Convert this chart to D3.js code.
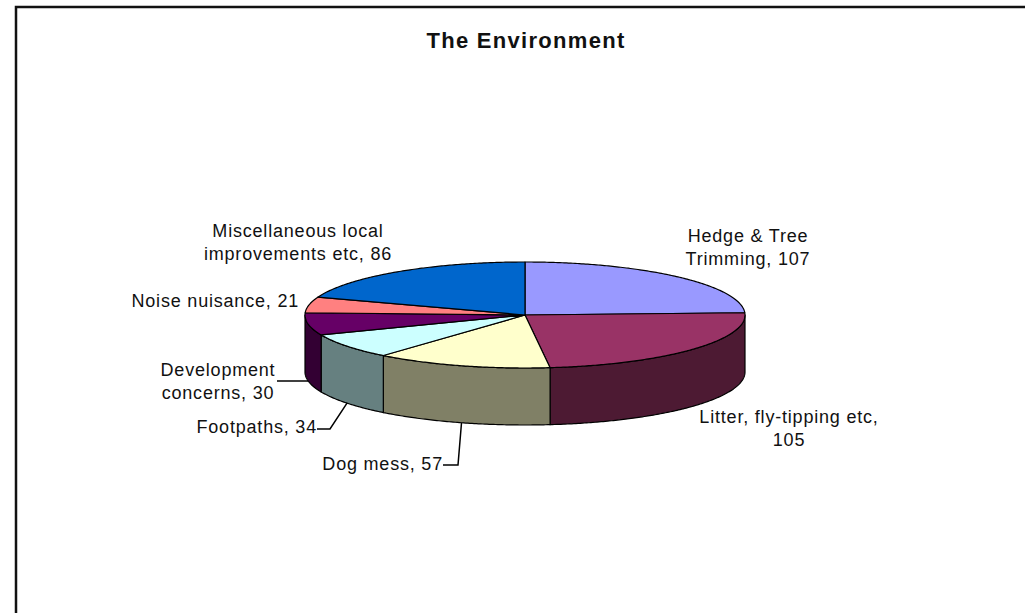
<!DOCTYPE html>
<html>
<head>
<meta charset="utf-8">
<script src="https://cdn.jsdelivr.net/npm/d3@7"></script>
<style>
  body { margin: 0; background: #fff; }
  svg { display: block; }
</style>
</head>
<body>
<div id="chart"></div>
<script>
const categories = ["Hedge & Tree Trimming", "Litter, fly-tipping etc", "Dog mess", "Footpaths",
  "Development concerns", "Noise nuisance", "Miscellaneous local improvements etc"];
const values = [107, 105, 57, 34, 30, 21, 86];
const colors = ["#9999ff", "#993366", "#ffffcc", "#ccffff", "#660066", "#ff8080", "#0066cc"];
const labelLines = [
  ["Hedge & Tree", "Trimming, 107"],
  ["Litter, fly-tipping etc,", "105"],
  ["Dog mess, 57"],
  ["Footpaths, 34"],
  ["Development", "concerns, 30"],
  ["Noise nuisance, 21"],
  ["Miscellaneous local", "improvements etc, 86"]
];

const W = 1025, H = 613;
const cx = 525, cy = 315, rx = 220, ry = 53, depth = 57;

const svg = d3.select("#chart").append("svg")
  .attr("width", W).attr("height", H);

// frame (runs off the right and bottom of the picture)
svg.append("rect")
  .attr("x", 16).attr("y", 7)
  .attr("width", W + 20).attr("height", H + 20)
  .attr("fill", "#fff")
  .attr("stroke", "#111")
  .attr("stroke-width", 2.5);

svg.append("text")
  .attr("x", cx + 1).attr("y", 48)
  .attr("text-anchor", "middle")
  .style("font-family", "'Liberation Sans', Arial, sans-serif")
  .style("font-size", "22px")
  .style("font-weight", "bold")
  .style("letter-spacing", "1.3px")
  .attr("fill", "#111")
  .text("The Environment");

// unit circle -> ellipse
const x = d3.scaleLinear().domain([-1, 1]).range([cx - rx, cx + rx]);
const y = d3.scaleLinear().domain([-1, 1]).range([cy + ry, cy - ry]);
const px = a => x(Math.sin(a));
const py = (a, dz) => y(Math.cos(a)) + (dz || 0);

const pie = d3.pie().sort(null).value(d => d)(values);
const arcPts = (a0, a1, dz) => {
  const n = Math.max(2, Math.ceil((a1 - a0) / 0.01));
  return d3.range(n + 1).map(i => {
    const a = a0 + (a1 - a0) * i / n;
    return [px(a), py(a, dz)];
  });
};
const line = d3.line();

const shade = c => {
  const k = d3.rgb(c);
  return d3.rgb(k.r * 0.5, k.g * 0.5, k.b * 0.5).toString();
};

// side walls (front half only)
const walls = svg.append("g");
pie.forEach((p, i) => {
  const s = Math.max(p.startAngle, Math.PI / 2);
  const e = Math.min(p.endAngle, Math.PI * 1.5);
  if (e <= s) return;
  const pts = arcPts(s, e, 0).concat(arcPts(s, e, depth).reverse());
  walls.append("path")
    .attr("d", line(pts) + "Z")
    .attr("fill", shade(colors[i]))
    .attr("stroke", "#000")
    .attr("stroke-width", 1.2)
    .attr("stroke-linejoin", "round");
});

// top faces
const tops = svg.append("g");
pie.forEach((p, i) => {
  const pts = [[cx, cy]].concat(arcPts(p.startAngle, p.endAngle, 0));
  tops.append("path")
    .attr("d", line(pts) + "Z")
    .attr("fill", colors[i])
    .attr("stroke", "#000")
    .attr("stroke-width", 1.2)
    .attr("stroke-linejoin", "round");
});

// label layout: text anchor point + leader elbow
const layout = [
  { tx: 748, ty: 242, anchor: "middle" },
  { tx: 789, ty: 423, anchor: "middle" },
  { tx: 443, ty: 470, anchor: "end", leader: [[458, 465], [443, 465]] },
  { tx: 317, ty: 433, anchor: "end", leader: [[330, 429], [317, 429]] },
  { tx: 218, ty: 376, anchor: "middle", leader: [[277, 381]] },
  { tx: 299, ty: 307, anchor: "end" },
  { tx: 298, ty: 237, anchor: "middle" }
];

const labels = svg.append("g")
  .style("font-family", "'Liberation Sans', Arial, sans-serif")
  .style("font-size", "18px")
  .style("letter-spacing", "0.8px")
  .attr("fill", "#111");

pie.forEach((p, i) => {
  const L = layout[i];
  if (L.leader) {
    const mid = (p.startAngle + p.endAngle) / 2;
    const pts = [[px(mid), py(mid, depth)]].concat(L.leader);
    svg.append("path")
      .attr("d", line(pts))
      .attr("fill", "none")
      .attr("stroke", "#000")
      .attr("stroke-width", 1.5);
  }
  const t = labels.append("text")
    .attr("text-anchor", L.anchor)
    .attr("x", L.tx).attr("y", L.ty);
  labelLines[i].forEach((s, j) => {
    t.append("tspan").attr("x", L.tx).attr("dy", j ? 23 : 0).text(s);
  });
});
</script>
</body>
</html>
